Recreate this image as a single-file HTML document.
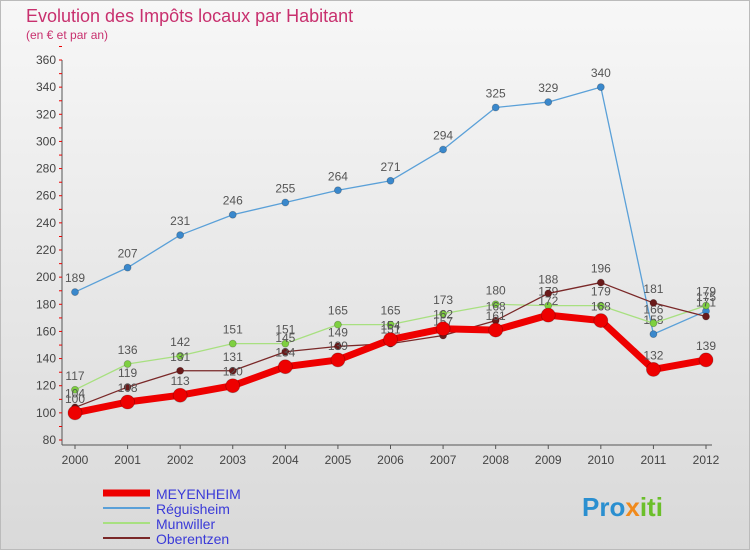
<!DOCTYPE html>
<html><head><meta charset="utf-8"><style>
body{margin:0;width:750px;height:550px;overflow:hidden;font-family:"Liberation Sans",sans-serif}
#c{position:absolute;left:0;top:0}
</style></head><body>
<svg id="c" width="750" height="550" xmlns="http://www.w3.org/2000/svg">
<defs><linearGradient id="bg" x1="0" y1="0" x2="0" y2="1"><stop offset="0" stop-color="#f7f7f7"/><stop offset="1" stop-color="#d9d9d9"/></linearGradient></defs>
<rect x="0.5" y="0.5" width="749" height="549" fill="url(#bg)" stroke="#bbb"/>
<text x="26" y="22" font-size="18" fill="#c8306e">Evolution des Impôts locaux par Habitant</text>
<text x="26" y="39" font-size="12" fill="#c8306e">(en € et par an)</text>
<g id="axes"></g><g id="series"></g><g id="legend"></g>
<text x="582" y="516" font-size="26" font-weight="bold" fill="#2a8fd0">Pro<tspan fill="#f08a1c">x</tspan><tspan fill="#6bbf2a">iti</tspan></text>
</svg>
<script>
const years=["2000","2001","2002","2003","2004","2005","2006","2007","2008","2009","2010","2011","2012"];
const yTicks=[80,100,120,140,160,180,200,220,240,260,280,300,320,340,360];
const meyenheim=[100,108,113,120,134,139,154,162,161,172,168,132,139];
const reguisheim=[189,207,231,246,255,264,271,294,325,329,340,158,175];
const munwiller=[117,136,142,151,151,165,165,173,180,179,179,166,179];
const oberentzen=[104,119,131,131,145,149,151,157,168,188,196,181,171];
const NS="http://www.w3.org/2000/svg";
const X=i=>75+i*(706-75)/12;
const Y=v=>440-(v-80)*(380/280);
function mk(t,a,p){const e=document.createElementNS(NS,t);for(const k in a)e.setAttribute(k,a[k]);p.appendChild(e);return e;}
const ax=document.getElementById('axes');
mk('line',{x1:62,y1:60,x2:62,y2:445,stroke:'#555'},ax);
mk('line',{x1:62,y1:445,x2:712,y2:445,stroke:'#555'},ax);
yTicks.forEach(v=>{const t=mk('text',{x:56,y:Y(v)+4,'font-size':12,'text-anchor':'end',fill:'#444'},ax);t.textContent=v;


mk('line',{x1:59,y1:Y(v),x2:62,y2:Y(v),stroke:'#e00'},ax);mk('line',{x1:59,y1:Y(v)-13.5,x2:62,y2:Y(v)-13.5,stroke:'#e00'},ax);});
years.forEach((y,i)=>{const t=mk('text',{x:X(i),y:464,'font-size':12,'text-anchor':'middle',fill:'#444'},ax);t.textContent=y;


mk('line',{x1:X(i),y1:445,x2:X(i),y2:449,stroke:'#555'},ax);});
const sg=document.getElementById('series');
function draw(data,col,w,r,name,dot){
 const g=mk('g',{},sg);
 
 
 mk('polyline',{points:data.map((v,i)=>X(i)+','+Y(v)).join(' '),fill:'none',stroke:col,'stroke-width':w,'stroke-linejoin':'round'},g);
 data.forEach((v,i)=>{const c=mk('circle',{cx:X(i),cy:Y(v),r:r,fill:dot,stroke:'rgba(0,0,0,0.25)','stroke-width':0.8},g);
 
 
 const t=mk('text',{x:X(i),y:Y(v)-10,'font-size':12,'text-anchor':'middle',fill:'#555'},g);t.textContent=v;
 
 });
}
draw(reguisheim,'#5aa0d8',1.3,3.5,'reguisheim','#3a88cc');
draw(munwiller,'#a8e080',1.3,3.5,'munwiller','#7ed040');
draw(oberentzen,'#7a2828',1.3,3.5,'oberentzen','#6a1a1a');
draw(meyenheim,'#ee0000',7,7,'meyenheim','#ee0000');
const lg=document.getElementById('legend');
[["MEYENHEIM","#ee0000",7],["Réguisheim","#5aa0d8",2],["Munwiller","#a8e080",2],["Oberentzen","#7a2828",2]].forEach((s,i)=>{
 const y=493+i*15;
 const l=mk('line',{x1:103,y1:y,x2:150,y2:y,stroke:s[1],'stroke-width':s[2]},lg);
 
 
 const t=mk('text',{x:156,y:y+6,'font-size':14,fill:'#3a3ad8'},lg);t.textContent=s[0];
 
 
});
</script>
</body></html>
